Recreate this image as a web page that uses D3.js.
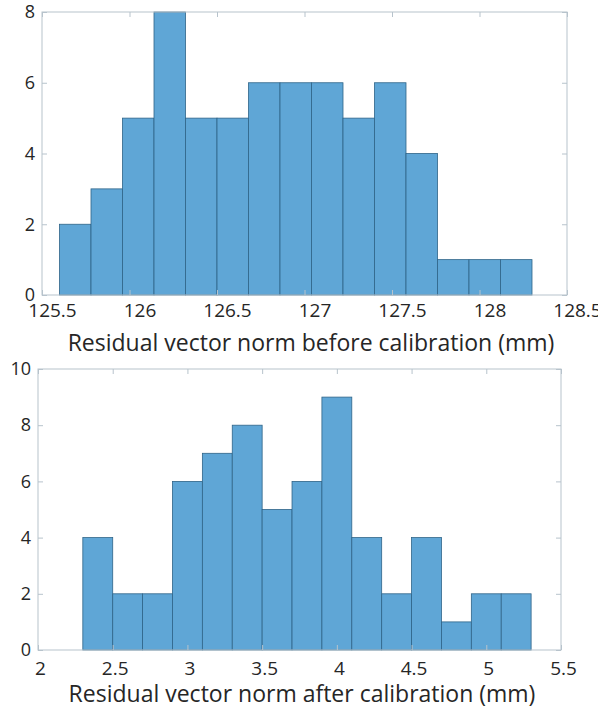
<!DOCTYPE html>
<html>
<head>
<meta charset="utf-8">
<script src="https://cdn.jsdelivr.net/npm/d3@7"></script>
<style>
  body { margin: 0; background: #fff; }
  svg { display: block; }
  .tick text { font-family: "Open Sans", sans-serif; fill: #262626; }
  .xlabel { font-family: "Open Sans", sans-serif; fill: #262626; }
</style>
</head>
<body>
<div id="vis-canvas"></div>
<script>
const outerWidth = 598;
const outerHeight = 715;

// before calibration: first bin edge, bin width, counts
const beforeStart = 125.6;
const beforeWidth = 0.18;
const beforeCounts = [2, 3, 5, 8, 5, 5, 6, 6, 6, 5, 6, 4, 1, 1, 1];
const beforeXTicks = [125.5, 126, 126.5, 127, 127.5, 128, 128.5];
const beforeYTicks = [0, 2, 4, 6, 8];

// after calibration
const afterStart = 2.3;
const afterWidth = 0.2;
const afterCounts = [4, 2, 2, 6, 7, 8, 5, 6, 9, 4, 2, 4, 1, 2, 2];
const afterXTicks = [2, 2.5, 3, 3.5, 4, 4.5, 5, 5.5];
const afterYTicks = [0, 2, 4, 6, 8, 10];

const barFill = "#5fa6d6";
const barStroke = "#2f6488";
const boxColor = "#b7c3cc";

const svg = d3.select("#vis-canvas").append("svg")
    .attr("width", outerWidth)
    .attr("height", outerHeight);

function drawHist(cfg) {
    const {left, right, top, bottom, xDomain, yMax, start, width, counts,
           xTicks, yTicks, label, labelX, labelY, xTickY, xTickDx} = cfg;

    const x = d3.scaleLinear().domain(xDomain).range([left, right]);
    const y = d3.scaleLinear().domain([0, yMax]).range([bottom, top]);

    const bins = counts.map((c, i) => ({x0: start + i * width, x1: start + (i + 1) * width, n: c}));

    const g = svg.append("g");

    g.append("g").selectAll("rect")
        .data(bins)
        .join("rect")
        .attr("x", d => x(d.x0))
        .attr("y", d => y(d.n))
        .attr("width", d => x(d.x1) - x(d.x0))
        .attr("height", d => y(0) - y(d.n))
        .attr("fill", barFill)
        .attr("stroke", barStroke)
        .attr("stroke-width", 0.8);

    // box round the plot
    g.append("rect")
        .attr("x", left).attr("y", top)
        .attr("width", right - left).attr("height", bottom - top)
        .attr("fill", "none")
        .attr("stroke", boxColor)
        .attr("stroke-width", 1);

    // matlab style: ticks point inward on all four sides
    const xAxis = g.append("g")
        .attr("transform", `translate(0,${bottom})`)
        .call(d3.axisBottom(x).tickValues(xTicks).tickSize(-5).tickFormat(d3.format("")));
    const yAxis = g.append("g")
        .attr("transform", `translate(${left},0)`)
        .call(d3.axisLeft(y).tickValues(yTicks).tickSize(-5).tickPadding(7).tickFormat(d3.format("")));
    g.append("g")
        .attr("transform", `translate(0,${top})`)
        .call(d3.axisTop(x).tickValues(xTicks).tickSize(-5).tickFormat(""));
    g.append("g")
        .attr("transform", `translate(${right},0)`)
        .call(d3.axisRight(y).tickValues(yTicks).tickSize(-5).tickFormat(""));

    g.selectAll(".domain").remove();
    g.selectAll(".tick line").attr("stroke", boxColor);
    xAxis.selectAll("text")
        .attr("y", xTickY)
        .attr("dy", "0.35em")
        .attr("dx", xTickDx)
        .style("font-size", "19px");
    yAxis.selectAll("text").style("font-size", "18px");

    g.append("text")
        .attr("class", "xlabel")
        .attr("x", labelX)
        .attr("y", labelY)
        .attr("text-anchor", "middle")
        .style("font-size", "23px")
        .text(label);
}

drawHist({
    left: 42, right: 567, top: 12, bottom: 295,
    xDomain: [125.5, 128.5], yMax: 8,
    start: beforeStart, width: beforeWidth, counts: beforeCounts,
    xTicks: beforeXTicks, yTicks: beforeYTicks,
    xTickY: 15, xTickDx: 10,
    label: "Residual vector norm before calibration (mm)", labelX: 311, labelY: 351
});

drawHist({
    left: 38, right: 561, top: 369, bottom: 650,
    xDomain: [2, 5.5], yMax: 10,
    start: afterStart, width: afterWidth, counts: afterCounts,
    xTicks: afterXTicks, yTicks: afterYTicks,
    xTickY: 18, xTickDx: 2,
    label: "Residual vector norm after calibration (mm)", labelX: 302, labelY: 702
});
</script>
</body>
</html>
